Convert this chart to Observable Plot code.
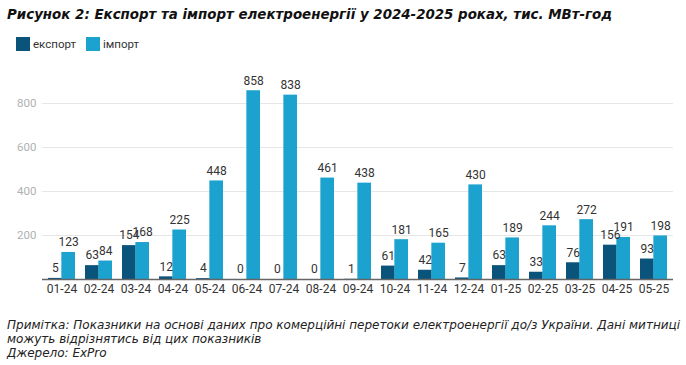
<!DOCTYPE html>
<html><head><meta charset="utf-8">
<script src="https://cdn.jsdelivr.net/npm/d3@7"></script>
<script src="https://cdn.jsdelivr.net/npm/@observablehq/plot@0.6"></script>
<style>
body{margin:0;background:#fff;width:686px;height:365px;position:relative;overflow:hidden}
#title{position:absolute;left:7px;top:7px;font:italic bold 13.4px "DejaVu Sans";color:#111;white-space:nowrap}
#legend{position:absolute;left:16px;top:37px;font:11.5px Roboto;color:#333;display:flex;align-items:center}
.sw{display:inline-block;width:14px;height:14px;margin-right:3px}
#chart{position:absolute;left:0;top:60px}
#note{position:absolute;left:7px;top:318px;font:italic 12px "DejaVu Sans";color:#222;line-height:14px;white-space:nowrap}
</style></head>
<body>
<div id="title">Рисунок 2: Експорт та імпорт електроенергії у 2024-2025 роках, тис. МВт-год</div>
<div id="legend"></div>
<div id="chart"></div>
<div id="note">Примітка: Показники на основі даних про комерційні перетоки електроенергії до/з України. Дані митниці<br>можуть відрізнятись від цих показників<br>Джерело: ExPro</div>
<script>
const months = ["01-24","02-24","03-24","04-24","05-24","06-24","07-24","08-24","09-24","10-24","11-24","12-24","01-25","02-25","03-25","04-25","05-25"];
const exportVals = [5,63,154,12,4,0,0,0,1,61,42,7,63,33,76,156,93];
const importVals = [123,84,168,225,448,858,838,461,438,181,165,430,189,244,272,191,198];
const seriesNames = ["експорт","імпорт"];
const seriesColors = ["#0a537b","#1ba2cf"];
const yTicks = [200,400,600,800];

const exp = months.map((m,i)=>({m, v: exportVals[i]}));
const imp = months.map((m,i)=>({m, v: importVals[i]}));

const leg = document.getElementById("legend");
seriesNames.forEach((n,i)=>{
  const s = document.createElement("span"); s.className="sw"; s.style.background=seriesColors[i];
  const t = document.createElement("span"); t.textContent=n; t.style.marginRight = i===0 ? "10px" : "0";
  leg.appendChild(s); leg.appendChild(t);
});

const half = 13.35;
const chart = Plot.plot({
  width: 686, height: 240,
  marginLeft: 42, marginRight: 13, marginTop: 20, marginBottom: 21,
  style: {fontFamily: "Roboto", background: "transparent"},
  x: {domain: months, paddingInner: 0.28, paddingOuter: 0.153, label: null, tickSize: 0, tickPadding: 5},
  y: {domain: [0, 800*199/176], ticks: yTicks, label: null, tickSize: 0, tickPadding: 6, grid: true},
  marks: [
    Plot.gridY(yTicks, {stroke: "#e6e6e6", strokeOpacity: 1, strokeWidth: 1.2}),
    Plot.axisY(yTicks, {tickSize: 0, tickPadding: 6, fill: "#b0b0b0", fontSize: 11.5, label: null}),
    Plot.axisX({tickSize: 0, tickPadding: 5, fill: "#333", fontSize: 12, label: null}),
    Plot.barY(exp, {x: "m", y: "v", fill: seriesColors[0], insetRight: half}),
    Plot.barY(imp, {x: "m", y: "v", fill: seriesColors[1], insetLeft: half}),
    Plot.ruleY([0], {stroke: "#666", strokeWidth: 1.5}),
    Plot.text(exp, {x: "m", y: "v", text: d => String(d.v), dx: -half/2, dy: -10, fill: "#333", fontSize: 12}),
    Plot.text(imp, {x: "m", y: "v", text: d => String(d.v), dx: half/2, dy: -10, fill: "#333", fontSize: 12})
  ]
});
document.getElementById("chart").appendChild(chart);
</script>
</body></html>
